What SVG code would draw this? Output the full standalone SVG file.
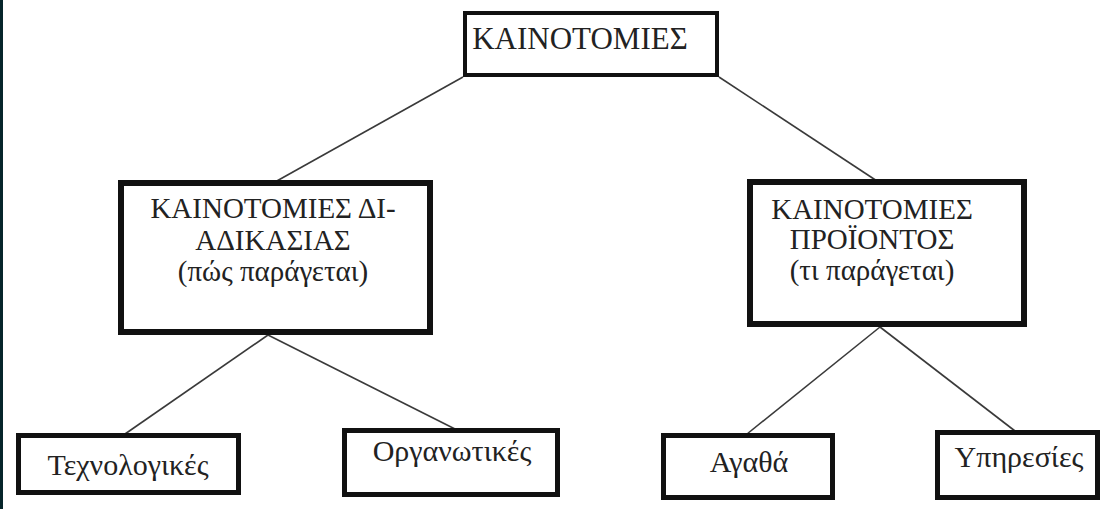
<svg xmlns="http://www.w3.org/2000/svg" width="1101" height="509" viewBox="0 0 1101 509">
<style>
.box{fill:#fff;stroke:#111;}
.t{font-family:"Liberation Serif","DejaVu Serif",serif;fill:#222;text-anchor:middle;}
.c{stroke:#3a3a3a;stroke-width:1.6;fill:none;}
</style>
<rect x="0" y="0" width="1101" height="509" fill="#fff"/>
<rect x="0" y="0" width="3" height="509" fill="#06252a"/>
<g id="connectors">
<line class="c" x1="463" y1="77" x2="275" y2="182"/>
<line class="c" x1="719" y1="77" x2="877" y2="181"/>
<line class="c" x1="268" y1="335" x2="125" y2="434"/>
<line class="c" x1="268" y1="335" x2="455" y2="429"/>
<line class="c" x1="880" y1="327" x2="747" y2="434"/>
<line class="c" x1="880" y1="327" x2="1015" y2="431"/>
</g>
<g id="root">
<rect class="box" x="465" y="13" width="252" height="62" stroke-width="4"/>
<text class="t" x="580" y="49" font-size="31">ΚΑΙΝΟΤΟΜΙΕΣ</text>
</g>
<g id="process">
<rect class="box" x="121" y="183" width="309" height="149" stroke-width="6"/>
<text class="t" x="273" y="218" font-size="29">ΚΑΙΝΟΤΟΜΙΕΣ ΔΙ-</text>
<text class="t" x="273" y="250" font-size="29">ΑΔΙΚΑΣΙΑΣ</text>
<text class="t" x="273" y="281" font-size="29">(πώς παράγεται)</text>
</g>
<g id="product">
<rect class="box" x="750" y="182" width="274" height="142" stroke-width="6"/>
<text class="t" x="872" y="219" font-size="29">ΚΑΙΝΟΤΟΜΙΕΣ</text>
<text class="t" x="872" y="249" font-size="29">ΠΡΟΪΟΝΤΟΣ</text>
<text class="t" x="872" y="280" font-size="29">(τι παράγεται)</text>
</g>
<g id="tech">
<rect class="box" x="18.5" y="435.5" width="220" height="57" stroke-width="5"/>
<text class="t" x="128" y="475" font-size="30">Τεχνολογικές</text>
</g>
<g id="org">
<rect class="box" x="344.5" y="430.5" width="213" height="64" stroke-width="5"/>
<text class="t" x="452" y="461" font-size="30">Οργανωτικές</text>
</g>
<g id="goods">
<rect class="box" x="663.5" y="435.5" width="169" height="62" stroke-width="5"/>
<text class="t" x="749" y="472" font-size="30">Αγαθά</text>
</g>
<g id="services">
<rect class="box" x="937.5" y="432.5" width="160" height="65" stroke-width="5"/>
<text class="t" x="1019" y="467" font-size="30">Υπηρεσίες</text>
</g>
</svg>
